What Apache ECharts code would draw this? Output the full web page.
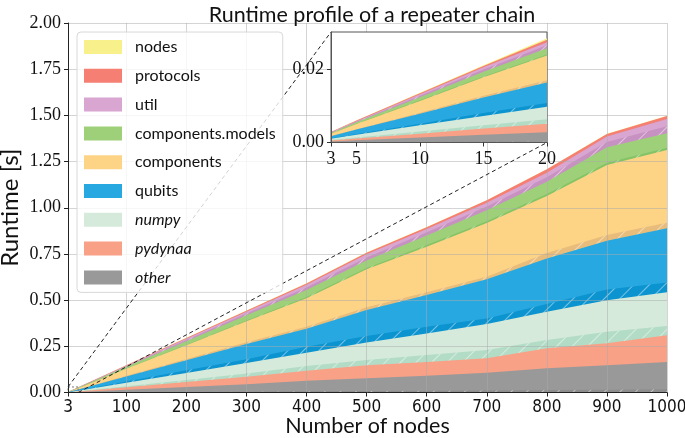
<!DOCTYPE html>
<html><head><meta charset="utf-8">
<script src="https://cdn.jsdelivr.net/npm/echarts@6/dist/echarts.min.js"></script>
<style>html,body{margin:0;padding:0;background:#fff}#c{width:685px;height:438px}</style>
</head><body><div id="c"></div>
<script>
// ---- data (runtime in seconds, per layer thickness) ----
const nodeCounts = [3, 5, 10, 15, 20, 100, 200, 300, 400, 500, 600, 700, 800, 900, 1000];
const xTicks = [3, 100, 200, 300, 400, 500, 600, 700, 800, 900, 1000];
const insetXTicks = [3, 5, 10, 15, 20];

const otherH    = [.00005,.0001,.00015,.0002,.0003,.0015,.003,.0045,.0065,.008,.009,.011,.013,.015,.017];
const otherM    = [.00025,.0005,.0012,.0019,.0025,.0135,.027,.0405,.0565,.069,.082,.096,.118,.133,.148];
const pydynaa   = [.00025,.0005,.00105,.0017,.0023,.013,.027,.04,.055,.07,.074,.078,.108,.118,.145];
const numpyH    = [.00013,.00025,.0006,.0009,.0012,.006,.011,.018,.025,.029,.038,.045,.045,.063,.05];
const numpyM    = [.00032,.00075,.0017,.0025,.0034,.019,.038,.057,.072,.094,.117,.141,.153,.171,.182];
const qubitsH   = [.0001,.0002,.0004,.0008,.001,.007,.014,.02,.032,.036,.036,.029,.042,.058,.054];
const qubitsM   = [.0006,.0012,.0027,.0042,.0056,.027,.055,.083,.098,.141,.172,.213,.246,.264,.293];
const compH     = [.00005,.0001,.0003,.0005,.0006,.003,.006,.009,.011,.014,.014,.014,.03,.03,.03];
const compM     = [.00065,.0014,.0032,.005,.0067,.038,.075,.113,.154,.206,.247,.29,.309,.379,.3935];
const modelsH   = [.00004,.0001,.00015,.0002,.0003,.0015,.003,.005,.007,.007,.009,.01,.011,.013,.012];
const modelsM   = [.00016,.0004,.00085,.0013,.0017,.0095,.019,.028,.038,.041,.052,.06,.066,.083,.0785];
const utilH     = [.00011,.00015,.0004,.0006,.0008,.003,.0065,.0095,.014,.016,.017,.02,.024,.029,.038];
const utilM     = [.00011,.00015,.0004,.0006,.0008,.003,.0065,.0095,.014,.017,.018,.02,.025,.029,.039];
const protocols = [.00005,.00015,.0003,.0004,.0007,.002,.004,.006,.007,.009,.01,.013,.018,.014,.017];
const nodesTime = [.00003,.00005,.0001,.0002,.0004,.001,.001,.001,.001,.001,.001,.001,.001,.001,.001];

const legendOrder = ['nodes','protocols','util','components.models','components','qubits','numpy','pydynaa','other'];
const italicNames = ['numpy','pydynaa','other'];

// layers bottom -> top: [name, data, color, hatched]
const layers = [
  ['other~h', otherH, '#8d8d8d', true],
  ['other', otherM, '#999999', false],
  ['pydynaa', pydynaa, '#f8a186', false],
  ['numpy~h', numpyH, '#b3dcc6', true],
  ['numpy', numpyM, '#d5eadb', false],
  ['qubits~h', qubitsH, '#0c94d0', true],
  ['qubits', qubitsM, '#28a8e0', false],
  ['components~h', compH, '#e8bc7a', true],
  ['components', compM, '#fdd386', false],
  ['components.models~h', modelsH, '#84c466', true],
  ['components.models', modelsM, '#9ed079', false],
  ['util~h', utilH, '#c792c2', true],
  ['util', utilM, '#d8a6d1', false],
  ['protocols', protocols, '#f47f72', false],
  ['nodes', nodesTime, '#f8f18b', false]
];

const decal = {symbol:'rect', symbolSize:1, dashArrayX:[1,0], dashArrayY:[1,10], rotation:-Math.PI/4, color:'rgba(255,255,255,0.45)'};

// running totals so each layer is drawn as the area under its cumulative top
const tops = [];
let run = nodeCounts.map(() => 0);
layers.forEach(l => { run = run.map((v, i) => v + l[1][i]); tops.push(run.slice()); });

function mk(li, gi, maxX) {
  const [name, , color, hatched] = layers[li];
  const data = [];
  nodeCounts.forEach((x, i) => { if (x <= maxX) data.push([x, tops[li][i]]); });
  const s = {
    type:'line', name: name, xAxisIndex: gi, yAxisIndex: gi,
    data: data, symbol:'none', showSymbol:false, lineStyle:{width:0}, color: color,
    areaStyle:{color: color, opacity:1, origin:'start'}, itemStyle:{color: color}, z: gi ? 8 : 2, silent:true
  };
  if (hatched) s.itemStyle.decal = decal;
  return s;
}
const series = [];
for (let li = layers.length - 1; li >= 0; li--) series.push(mk(li, 0, 1e9));
for (let li = layers.length - 1; li >= 0; li--) series.push(mk(li, 1, 20));

const serif = "'Liberation Serif','DejaVu Serif',serif";
const cond = "'DejaVu Sans Condensed','Liberation Sans Narrow',Lato,sans-serif";
const sans = "Lato,'Open Sans','DejaVu Sans',sans-serif";
const gridLine = {show:true, lineStyle:{color:'rgba(170,170,170,0.5)', width:1}};

const option = {
  animation:false,
  backgroundColor:'#fff',
  title:{text:'Runtime profile of a repeater chain', left:367, textAlign:'center', top:-1,
    textStyle:{fontFamily:sans, fontSize:21.5, fontWeight:'normal', color:'#111'}},
  legend:{
    data: legendOrder, orient:'vertical', left:77, top:32,
    itemWidth:38, itemHeight:14, itemGap:12.8, icon:'rect',
    padding:[7,7,7,7], backgroundColor:'rgba(255,255,255,0.8)', borderColor:'#d8d8d8', borderWidth:1, borderRadius:4,
    formatter: n => italicNames.includes(n) ? '{i|' + n + '}' : '{n|' + n + '}',
    textStyle:{fontFamily:sans, fontSize:16, color:'#111', padding:[0,0,0,8],
      rich:{n:{fontFamily:sans, fontSize:16, color:'#111'}, i:{fontFamily:sans, fontSize:16, fontStyle:'italic', color:'#111'}}},
    selectedMode:false, z:4
  },
  grid:[
    {left:68, right:18, top:23, bottom:45.5, containLabel:false, outerBoundsMode:'none'},
    {left:331, right:138, top:32, height:110.5, containLabel:false, outerBoundsMode:'none',
     show:true, backgroundColor:'#fff', borderColor:'#555', borderWidth:1, z:6}
  ],
  xAxis:[
    {type:'value', gridIndex:0, min:3, max:1000, z:3,
     name:'Number of nodes', nameLocation:'middle', nameGap:23, nameMoveOverlap:false,
     nameTextStyle:{fontFamily:sans, fontSize:21.5, color:'#111', verticalAlign:'top'},
     axisLine:{lineStyle:{color:'#222', width:1}}, axisTick:{customValues:xTicks, length:4, lineStyle:{color:'#222'}},
     axisLabel:{customValues:xTicks, fontFamily:cond, fontSize:17, color:'#111', margin:7, formatter:v => String(v)},
     splitLine:gridLine},
    {type:'value', gridIndex:1, min:3, max:20, z:9,
     axisLine:{lineStyle:{color:'#555'}}, axisTick:{customValues:insetXTicks, length:4, lineStyle:{color:'#333'}},
     axisLabel:{customValues:insetXTicks, fontFamily:serif, fontSize:18, color:'#111', margin:8, formatter:v => String(v)},
     splitLine:{show:false}}
  ],
  yAxis:[
    {type:'value', gridIndex:0, min:0, max:2, interval:0.25, z:3,
     name:'Runtime [s]', nameLocation:'middle', nameGap:46, nameRotate:90, nameMoveOverlap:false,
     nameTextStyle:{fontFamily:sans, fontSize:24, color:'#111', verticalAlign:'bottom'},
     axisLine:{show:true, lineStyle:{color:'#222', width:1}}, axisTick:{show:true, length:4, lineStyle:{color:'#222'}},
     axisLabel:{fontFamily:serif, fontSize:18, color:'#111', margin:7, formatter:v => v.toFixed(2)},
     splitLine:gridLine},
    {type:'value', gridIndex:1, min:0, max:0.03, interval:0.02, z:9,
     axisLine:{show:true, lineStyle:{color:'#555'}}, axisTick:{show:true, length:4, lineStyle:{color:'#333'}},
     axisLabel:{fontFamily:serif, fontSize:18, color:'#111', margin:7, showMaxLabel:false, formatter:v => v.toFixed(2)},
     splitLine:{show:false}}
  ],
  series: series
};

const chart = echarts.init(document.getElementById('c'), null, {renderer:'canvas'});
chart.setOption(option);

// zoom-box indicator and connector lines (positions from the axes' own scales)
const px = (gi, pt) => chart.convertToPixel({gridIndex:gi}, pt);
const zTL = px(0, [3, 0.03]), zBR = px(0, [20, 0]);
const iTL = px(1, [3, 0.03]), iBR = px(1, [20, 0]);
chart.setOption({graphic:[
  {type:'rect', z:3, silent:true, shape:{x:zTL[0], y:zTL[1], width:zBR[0]-zTL[0], height:zBR[1]-zTL[1]},
   style:{fill:'none', stroke:'#777', lineWidth:1, lineDash:[2,2]}},
  {type:'line', z:3, silent:true, shape:{x1:zTL[0], y1:zTL[1], x2:iTL[0], y2:iTL[1]},
   style:{stroke:'#222', lineWidth:1, lineDash:[4,3]}},
  {type:'line', z:3, silent:true, shape:{x1:zBR[0], y1:zBR[1], x2:iBR[0], y2:iBR[1]},
   style:{stroke:'#222', lineWidth:1, lineDash:[4,3]}}
]});
</script></body></html>
